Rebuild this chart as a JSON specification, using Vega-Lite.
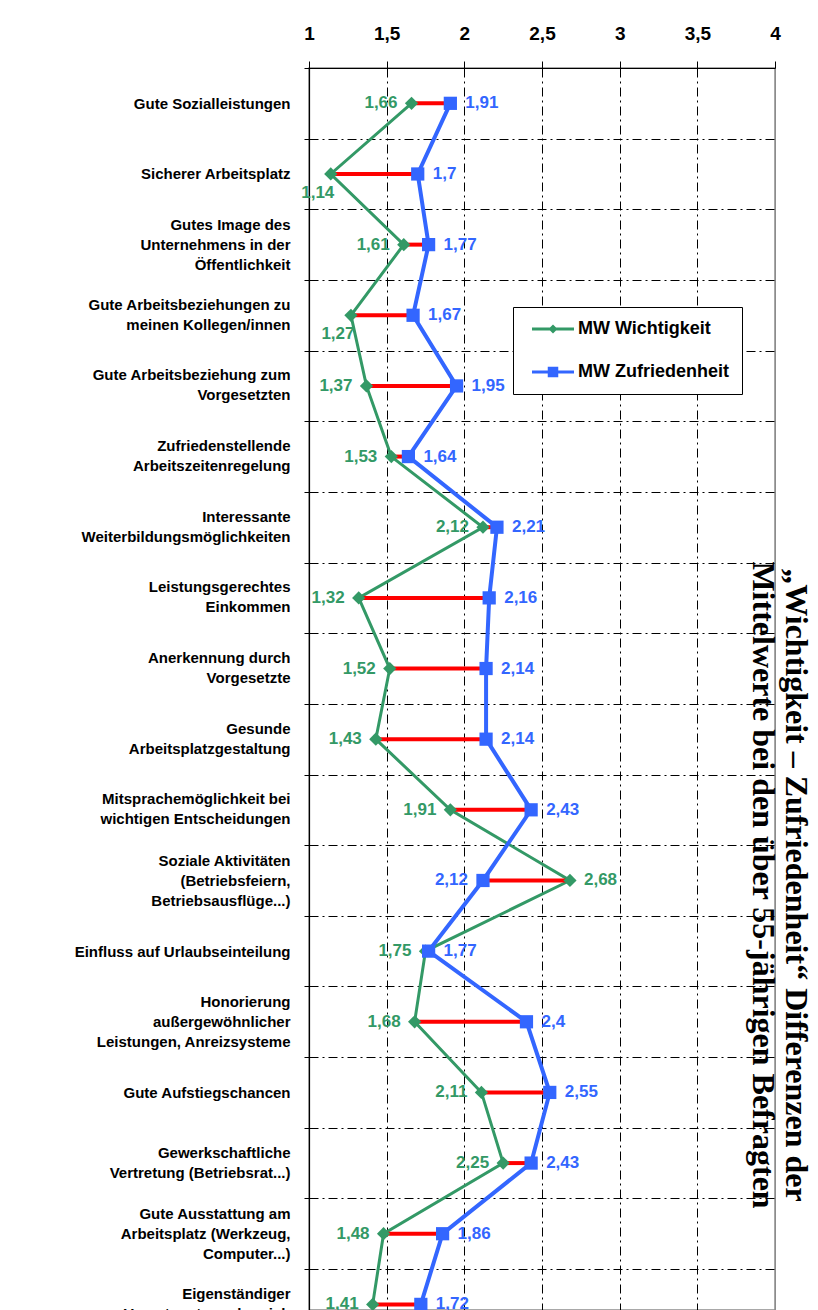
{
  "$schema": "https://vega.github.io/schema/vega-lite/v6.json",
  "autosize": {"type": "none"},
  "padding": {"left": 309, "top": 68, "right": 43, "bottom": 0},
  "width": 466,
  "height": 1242,
  "background": "white",
  "config": {
    "locale": {"number": {"decimal": ",", "thousands": ".", "grouping": [3], "currency": ["", " €"]}},
    "view": {"stroke": "#8c8c8c", "strokeWidth": 1.5},
    "font": "Liberation Sans"
  },
  "title": {
    "text": ["„Wichtigkeit – Zufriedenheit“ Differenzen der", "Mittelwerte bei den über 55-jährigen Befragten"],
    "orient": "right",
    "anchor": "middle",
    "frame": "group",
    "font": "Liberation Serif",
    "fontSize": 32,
    "fontWeight": "bold",
    "color": "black",
    "lineHeight": 33,
    "offset": -34,
    "dx": 196
  },
  "data": {
    "values": [
      {"label": "Gute Sozialleistungen", "MW Wichtigkeit": 1.66, "MW Zufriedenheit": 1.91},
      {"label": "Sicherer Arbeitsplatz", "MW Wichtigkeit": 1.14, "MW Zufriedenheit": 1.7},
      {"label": "Gutes Image des|Unternehmens in der|Öffentlichkeit", "MW Wichtigkeit": 1.61, "MW Zufriedenheit": 1.77},
      {"label": "Gute Arbeitsbeziehungen zu|meinen Kollegen/innen", "MW Wichtigkeit": 1.27, "MW Zufriedenheit": 1.67},
      {"label": "Gute Arbeitsbeziehung zum|Vorgesetzten", "MW Wichtigkeit": 1.37, "MW Zufriedenheit": 1.95},
      {"label": "Zufriedenstellende|Arbeitszeitenregelung", "MW Wichtigkeit": 1.53, "MW Zufriedenheit": 1.64},
      {"label": "Interessante|Weiterbildungsmöglichkeiten", "MW Wichtigkeit": 2.12, "MW Zufriedenheit": 2.21},
      {"label": "Leistungsgerechtes|Einkommen", "MW Wichtigkeit": 1.32, "MW Zufriedenheit": 2.16},
      {"label": "Anerkennung durch|Vorgesetzte", "MW Wichtigkeit": 1.52, "MW Zufriedenheit": 2.14},
      {"label": "Gesunde|Arbeitsplatzgestaltung", "MW Wichtigkeit": 1.43, "MW Zufriedenheit": 2.14},
      {"label": "Mitsprachemöglichkeit bei|wichtigen Entscheidungen", "MW Wichtigkeit": 1.91, "MW Zufriedenheit": 2.43},
      {"label": "Soziale Aktivitäten|(Betriebsfeiern,|Betriebsausflüge...)", "MW Wichtigkeit": 2.68, "MW Zufriedenheit": 2.12},
      {"label": "Einfluss auf Urlaubseinteilung", "MW Wichtigkeit": 1.75, "MW Zufriedenheit": 1.77},
      {"label": "Honorierung|außergewöhnlicher|Leistungen, Anreizsysteme", "MW Wichtigkeit": 1.68, "MW Zufriedenheit": 2.4},
      {"label": "Gute Aufstiegschancen", "MW Wichtigkeit": 2.11, "MW Zufriedenheit": 2.55},
      {"label": "Gewerkschaftliche|Vertretung (Betriebsrat...)", "MW Wichtigkeit": 2.25, "MW Zufriedenheit": 2.43},
      {"label": "Gute Ausstattung am|Arbeitsplatz (Werkzeug,|Computer...)", "MW Wichtigkeit": 1.48, "MW Zufriedenheit": 1.86},
      {"label": "Eigenständiger|Verantwortungsbereich", "MW Wichtigkeit": 1.41, "MW Zufriedenheit": 1.72}
    ]
  },
  "encoding": {
    "y": {
      "field": "label",
      "type": "nominal",
      "sort": null,
      "scale": {"type": "band", "range": [0, 1271.7], "paddingInner": 0, "paddingOuter": 0},
      "axis": {
        "title": null,
        "orient": "left",
        "labelExpr": "split(datum.label, '|')",
        "labelFont": "Liberation Sans",
        "labelFontWeight": "bold",
        "labelFontSize": 15,
        "labelLineHeight": 20,
        "labelColor": "black",
        "labelAlign": "right",
        "labelBaseline": {"condition": {"test": "length(split(datum.value, '|')) === 2", "value": "line-bottom"}, "value": "middle"},
        "labelOffset": {"condition": {"test": "length(split(datum.value, '|')) === 3", "value": -20}, "value": 0},
        "labelPadding": 14,
        "labelLimit": 320,
        "labelOverlap": false,
        "tickBand": "extent",
        "tickSize": 5,
        "tickColor": "black",
        "tickWidth": 1,
        "grid": true,
        "gridColor": "black",
        "gridDash": [9, 4, 2, 4],
        "gridWidth": 1,
        "domainColor": "black",
        "domainWidth": 1.2
      }
    }
  },
  "layer": [
    {
      "mark": {"type": "line", "color": "#339966", "strokeWidth": 3},
      "encoding": {
        "x": {
          "field": "MW Wichtigkeit",
          "type": "quantitative",
          "scale": {"domain": [1, 4], "nice": false, "zero": false},
          "axis": {
            "orient": "top",
            "title": null,
            "values": [1, 1.5, 2, 2.5, 3, 3.5, 4],
            "format": "~g",
            "labelFont": "Liberation Sans",
            "labelFontSize": 19,
            "labelFontWeight": "bold",
            "labelColor": "black",
            "labelPadding": 18,
            "labelFlush": false,
            "tickSize": 7,
            "tickColor": "black",
            "domainColor": "black",
            "domainWidth": 1.2,
            "grid": true,
            "gridColor": {"condition": {"test": "datum.value === 4", "value": "#8c8c8c"}, "value": "black"},
            "gridDash": {"condition": {"test": "datum.value === 1 || datum.value === 4", "value": []}, "value": [9, 4, 2, 4]},
            "gridWidth": 1
          }
        },
        "order": {"value": null}
      }
    },
    {
      "mark": {"type": "line", "color": "#3366FF", "strokeWidth": 4},
      "encoding": {
        "x": {"field": "MW Zufriedenheit", "type": "quantitative"},
        "order": {"value": null}
      }
    },
    {
      "mark": {"type": "rule", "color": "#FF0000", "strokeWidth": 4},
      "encoding": {
        "x": {"field": "MW Wichtigkeit", "type": "quantitative"},
        "x2": {"field": "MW Zufriedenheit"}
      }
    },
    {
      "mark": {"type": "point", "shape": "diamond", "filled": true, "opacity": 1, "size": 175, "color": "#339966"},
      "encoding": {
        "x": {"field": "MW Wichtigkeit", "type": "quantitative"}
      }
    },
    {
      "mark": {"type": "point", "shape": "square", "filled": true, "opacity": 1, "size": 175, "color": "#3366FF"},
      "encoding": {
        "x": {"field": "MW Zufriedenheit", "type": "quantitative"}
      }
    },
    {
      "transform": [{"filter": "datum['MW Wichtigkeit'] <= datum['MW Zufriedenheit'] && datum['MW Wichtigkeit'] >= 1.3"}],
      "mark": {"type": "text", "align": "right", "baseline": "middle", "dx": -14, "font": "Liberation Sans", "fontSize": 17, "fontWeight": "bold", "color": "#339966"},
      "encoding": {
        "x": {"field": "MW Wichtigkeit", "type": "quantitative"},
        "text": {"field": "MW Wichtigkeit", "type": "quantitative", "format": "~g"}
      }
    },
    {
      "transform": [{"filter": "datum['MW Wichtigkeit'] < 1.3"}],
      "mark": {"type": "text", "align": "center", "baseline": "middle", "dx": -13, "dy": 19, "font": "Liberation Sans", "fontSize": 17, "fontWeight": "bold", "color": "#339966"},
      "encoding": {
        "x": {"field": "MW Wichtigkeit", "type": "quantitative"},
        "text": {"field": "MW Wichtigkeit", "type": "quantitative", "format": "~g"}
      }
    },
    {
      "transform": [{"filter": "datum['MW Wichtigkeit'] > datum['MW Zufriedenheit']"}],
      "mark": {"type": "text", "align": "left", "baseline": "middle", "dx": 14, "font": "Liberation Sans", "fontSize": 17, "fontWeight": "bold", "color": "#339966"},
      "encoding": {
        "x": {"field": "MW Wichtigkeit", "type": "quantitative"},
        "text": {"field": "MW Wichtigkeit", "type": "quantitative", "format": "~g"}
      }
    },
    {
      "transform": [{"filter": "datum['MW Zufriedenheit'] >= datum['MW Wichtigkeit']"}],
      "mark": {"type": "text", "align": "left", "baseline": "middle", "dx": 15, "font": "Liberation Sans", "fontSize": 17, "fontWeight": "bold", "color": "#3366FF"},
      "encoding": {
        "x": {"field": "MW Zufriedenheit", "type": "quantitative"},
        "text": {"field": "MW Zufriedenheit", "type": "quantitative", "format": "~g"}
      }
    },
    {
      "transform": [{"filter": "datum['MW Zufriedenheit'] < datum['MW Wichtigkeit']"}],
      "mark": {"type": "text", "align": "right", "baseline": "middle", "dx": -15, "font": "Liberation Sans", "fontSize": 17, "fontWeight": "bold", "color": "#3366FF"},
      "encoding": {
        "x": {"field": "MW Zufriedenheit", "type": "quantitative"},
        "text": {"field": "MW Zufriedenheit", "type": "quantitative", "format": "~g"}
      }
    },
    {
      "transform": [
        {"fold": ["MW Wichtigkeit", "MW Zufriedenheit"], "as": ["key", "value"]},
        {"filter": "false"}
      ],
      "mark": {"type": "point", "filled": true, "opacity": 1},
      "encoding": {
        "x": {"field": "value", "type": "quantitative"},
        "shape": {
          "field": "key", "type": "nominal",
          "scale": {
            "domain": ["MW Wichtigkeit", "MW Zufriedenheit"],
            "range": [
              "M-3,-0.21H3V0.21H-3Z M0,-0.65L0.65,0L0,0.65L-0.65,0Z",
              "M-3,-0.21H3V0.21H-3Z M-0.75,-0.75H0.75V0.75H-0.75Z"
            ]
          }
        },
        "color": {
          "field": "key", "type": "nominal",
          "scale": {"domain": ["MW Wichtigkeit", "MW Zufriedenheit"], "range": ["#339966", "#3366FF"]},
          "legend": {
            "title": null,
            "orient": "none",
            "legendX": 204,
            "legendY": 239,
            "direction": "vertical",
            "fillColor": "white",
            "strokeColor": "black",
            "padding": 13,
            "labelFont": "Liberation Sans",
            "labelFontSize": 18,
            "labelFontWeight": "bold",
            "labelColor": "black",
            "labelLimit": 300,
            "symbolSize": 196,
            "symbolOpacity": 1,
            "symbolStrokeWidth": 0,
            "symbolOffset": 18,
            "labelOffset": 16,
            "rowPadding": 25
          }
        }
      }
    }
  ]
}
